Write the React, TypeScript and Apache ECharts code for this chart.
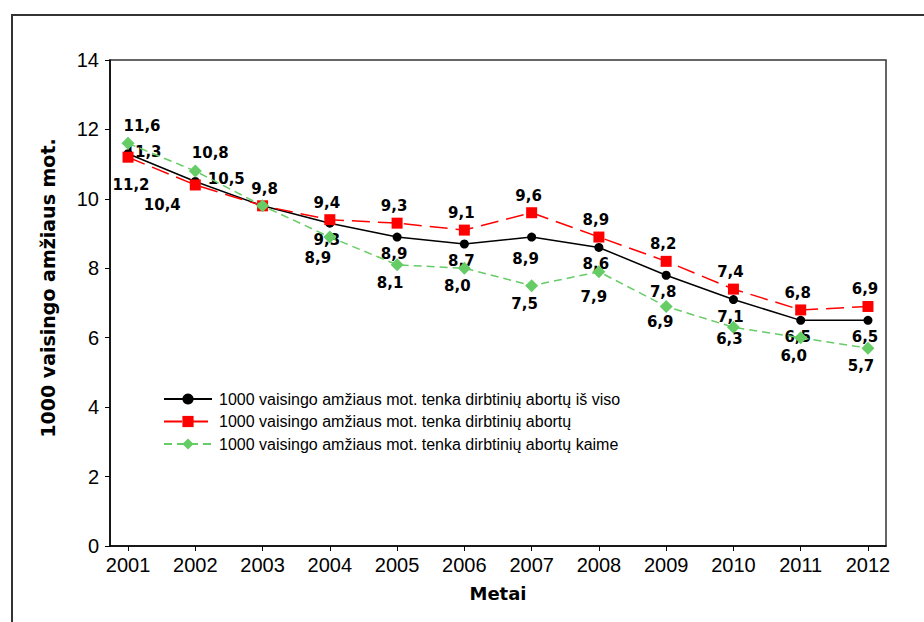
import React, { useEffect, useRef } from "react";
import * as echarts from "echarts";

const years = [2001, 2002, 2003, 2004, 2005, 2006, 2007, 2008, 2009, 2010, 2011, 2012];
const totalRates = [11.3, 10.5, 9.8, 9.3, 8.9, 8.7, 8.9, 8.6, 7.8, 7.1, 6.5, 6.5];
const abortionRates = [11.2, 10.4, 9.8, 9.4, 9.3, 9.1, 9.6, 8.9, 8.2, 7.4, 6.8, 6.9];
const ruralRates = [11.6, 10.8, 9.8, 8.9, 8.1, 8.0, 7.5, 7.9, 6.9, 6.3, 6.0, 5.7];
const yTicks = [0, 2, 4, 6, 8, 10, 12, 14];

const seriesNames = [
  "1000 vaisingo amžiaus mot. tenka dirbtinių abortų iš viso",
  "1000 vaisingo amžiaus mot. tenka dirbtinių abortų",
  "1000 vaisingo amžiaus mot. tenka dirbtinių abortų kaime",
];
const yTitle = "1000 vaisingo amžiaus mot.";
const xTitle = "Metai";

const fmt = (v: number) => v.toFixed(1).replace(".", ",");

// label placement (style only)
const labelDefaults: Record<number, number[]> = { 0: [-3, 17], 1: [-3, -17], 2: [-7, 18] };
const labelOverrides: Record<string, number[] | null> = {
  "0-0": [15, -2],
  "0-1": [31, -3],
  "0-2": null,
  "0-6": [-6, 22],
  "1-0": [3, 28],
  "1-1": [-33, 20],
  "1-2": null,
  "2-0": [14, -17],
  "2-1": [15, -18],
  "2-2": [2, -17],
  "2-3": [-12, 21],
  "2-7": [-5, 25],
  "2-8": [-6, 16],
  "2-9": [-4, 12],
};

function buildData(si: number, arr: number[]) {
  return years.map((y, i) => {
    const key = `${si}-${i}`;
    const item: any = { value: [y, arr[i]] };
    if (key in labelOverrides) {
      const o = labelOverrides[key];
      item.label = o ? { show: true, offset: o } : { show: false };
    }
    return item;
  });
}

export default function App() {
  const ref = useRef<HTMLDivElement>(null);
  useEffect(() => {
    document.body.style.margin = "0";
    const chart = echarts.init(ref.current!, null, { renderer: "svg" });
    const labelBase = (si: number) => ({
      show: true,
      position: "inside",
      offset: labelDefaults[si],
      fontFamily: "DejaVu Sans",
      fontWeight: "bold",
      fontSize: 15,
      color: "#000",
      formatter: (p: any) => fmt(p.value[1]),
    });
    chart.setOption({
      animation: false,
      backgroundColor: "#fff",
      grid: {
        left: 110,
        top: 60,
        right: 38,
        bottom: 76,
        show: true,
        borderColor: "#333",
        borderWidth: 1.5,
      },
      legend: {
        orient: "vertical",
        left: 158,
        top: 386,
        itemWidth: 48,
        itemHeight: 14,
        itemGap: 6.5,
        textStyle: { fontFamily: "Liberation Sans", fontSize: 16, color: "#000", padding: [0, 0, 0, 2] },
        data: seriesNames,
      },
      xAxis: {
        type: "value",
        min: 2000.732,
        max: 2012.268,
        name: xTitle,
        nameLocation: "middle",
        nameGap: 38,
        nameTextStyle: { fontFamily: "DejaVu Sans", fontWeight: "bold", fontSize: 18, color: "#000" },
        axisLine: { show: true, lineStyle: { color: "#000", width: 1.5 } },
        axisTick: { show: true, length: 5, lineStyle: { color: "#000" }, customValues: years },
        axisLabel: {
          customValues: years,
          formatter: (v: number) => String(v),
          fontFamily: "Liberation Sans",
          fontSize: 20,
          color: "#000",
          margin: 9,
        },
        splitLine: { show: false },
      },
      yAxis: {
        type: "value",
        min: 0,
        max: 14,
        interval: 2,
        axisLine: { show: true, lineStyle: { color: "#000", width: 1.5 } },
        axisTick: { show: true, length: 5, lineStyle: { color: "#000" } },
        axisLabel: {
          formatter: (v: number) => (yTicks.includes(v) ? String(v) : ""),
          fontFamily: "Liberation Sans",
          fontSize: 20,
          color: "#000",
          margin: 11,
        },
        splitLine: { show: false },
      },
      graphic: [
        {
          type: "rect",
          silent: true,
          shape: { x: 12, y: 15, width: 1000, height: 1000 },
          style: { fill: "none", stroke: "#333", lineWidth: 2 },
        },
        {
          type: "text",
          silent: true,
          x: 48,
          y: 288,
          rotation: Math.PI / 2,
          style: {
            text: yTitle,
            font: "bold 19px 'DejaVu Sans'",
            fill: "#000",
            textAlign: "center",
            textVerticalAlign: "middle",
            align: "center",
            verticalAlign: "middle",
          },
        },
      ],
      series: [
        {
          name: seriesNames[0],
          type: "line",
          data: buildData(0, totalRates),
          symbol: "circle",
          symbolSize: 9,
          itemStyle: { color: "#000" },
          lineStyle: { color: "#000", width: 1.5, type: "solid" },
          label: labelBase(0),
          z: 2,
        },
        {
          name: seriesNames[1],
          type: "line",
          data: buildData(1, abortionRates),
          symbol: "rect",
          symbolSize: 11,
          itemStyle: { color: "#ff0000" },
          lineStyle: { color: "#ff0000", width: 1.5, type: [18, 8] },
          label: labelBase(1),
          z: 3,
        },
        {
          name: seriesNames[2],
          type: "line",
          data: buildData(2, ruralRates),
          symbol: "diamond",
          symbolSize: 13,
          itemStyle: { color: "#66cc66" },
          lineStyle: { color: "#66cc66", width: 1.5, type: [8, 5] },
          label: labelBase(2),
          z: 4,
        },
      ],
    });
    return () => chart.dispose();
  }, []);
  return <div ref={ref} style={{ width: 924, height: 622 }} />;
}
